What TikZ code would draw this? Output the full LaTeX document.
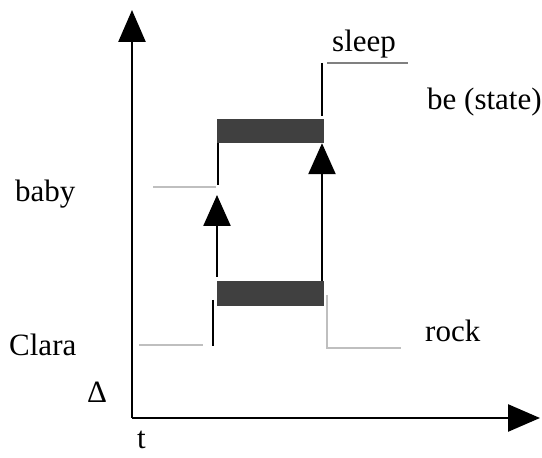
\documentclass[tikz,border=0pt]{standalone}
\usepackage{fontspec}
\setmainfont{Liberation Serif}
\usetikzlibrary{arrows.meta}
\begin{document}
\begin{tikzpicture}[x=1pt,y=1pt,
  axisline/.style={line width=2.6pt,-{Triangle[length=32pt,width=27pt]}},
  cause/.style={line width=2.4pt,-{Triangle[length=31pt,width=27pt]}},
  tick/.style={line width=2.4pt},
  lightline/.style={line width=2.2pt,draw=black!25},
  midline/.style={line width=2.2pt,draw=black!50},
  bar/.style={fill=black!75,draw=none},
  lbl/.style={anchor=base west,inner sep=0pt,font=\fontsize{31}{35}\selectfont}]
\useasboundingbox (0,0) rectangle (542,458);

% axes
\coordinate (origin) at (132,40);
\coordinate (ytop) at (132,448);
\coordinate (xend) at (540,40);
\draw[axisline] (origin) -- (ytop);
\draw[axisline] (origin) -- (xend);

% event bars
\node[bar,minimum width=107pt,minimum height=24pt,inner sep=0pt] (topbar) at (270.5,327) {};
\node[bar,minimum width=107pt,minimum height=25pt,inner sep=0pt] (lowbar) at (270.5,164.5) {};

% sleep: state line and its onset
\coordinate (sleepA) at (322,395);
\coordinate (sleepB) at (322,342);
\coordinate (sleepL) at (327,395);
\coordinate (sleepR) at (408,395);
\draw[tick] (sleepA) -- (sleepB);
\draw[midline] (sleepL) -- (sleepR);

% baby
\coordinate (babyA) at (218,315);
\coordinate (babyB) at (218,273);
\coordinate (babyL) at (153,271);
\coordinate (babyR) at (216,271);
\draw[tick] (babyA) -- (babyB);
\draw[lightline] (babyL) -- (babyR);

% Clara
\coordinate (claraA) at (213,158);
\coordinate (claraB) at (213,112);
\coordinate (claraL) at (139,113);
\coordinate (claraR) at (203,113);
\draw[tick] (claraA) -- (claraB);
\draw[lightline] (claraL) -- (claraR);

% rock
\coordinate (rockA) at (327,163);
\coordinate (rockB) at (327,110);
\coordinate (rockR) at (401,110);
\draw[lightline] (rockA) -- (rockB) -- (rockR);

% causal arrows between the bars
\coordinate (smallS) at (217,181);
\coordinate (smallT) at (217,263);
\draw[cause] (smallS) -- (smallT);
\draw[cause] (lowbar.north east -| sleepA) -- (topbar.south east -| sleepA);

% labels
\node[lbl] (sleep) at (332,406) {sleep};
\node[lbl] (bestate) at (427,348) {be (state)};
\node[lbl] (baby) at (15,256) {baby};
\node[lbl] (clara) at (9,102) {Clara};
\node[lbl] (rock) at (425,116) {rock};
\node[lbl] (delta) at (87,55) {Δ};
\node[lbl,text depth=0pt] (t) at (137,9) {t};
\end{tikzpicture}
\end{document}
